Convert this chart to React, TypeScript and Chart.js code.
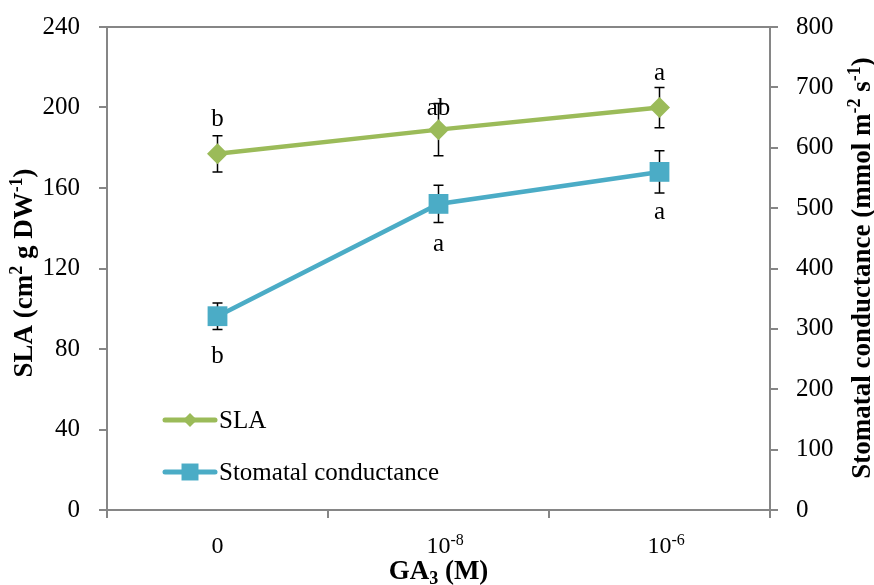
import React, { useEffect, useRef } from 'react';
import { Chart, registerables } from 'chart.js';

Chart.register(...registerables);

// ---- data ----
const categories = ['0', '10^-8', '10^-6'];
const tickBase = ['0', '10', '10'];
const tickExp = ['', '-8', '-6'];

const slaValues = [177, 189, 200];
const slaErrors = [9, 13, 10];
const slaLetters = ['b', 'ab', 'a'];

const gsValues = [321, 507, 560];
const gsErrors = [22, 31, 35];
const gsLetters = ['b', 'a', 'a'];

const slaRange = [0, 240, 40];
const gsRange = [0, 800, 100];

// ---- style ----
const GREEN = '#9BBB59';
const BLUE = '#4BACC6';
const GRAY = '#868686';
const SERIF = '"Liberation Serif", "Times New Roman", serif';
const slaLetterShift = [-28, -15, -28];
const gsLetterShift = [47, 47, 47];

type Run = { t: string; sup?: boolean; sub?: boolean };

function runFont(size: number, bold: boolean, small: boolean) {
  return `${bold ? 'bold ' : ''}${small ? Math.round(size * 0.65) : size}px ${SERIF}`;
}

function drawRuns(
  ctx: CanvasRenderingContext2D,
  runs: Run[],
  x: number,
  y: number,
  size: number,
  bold: boolean,
  rotate: number
) {
  ctx.save();
  ctx.translate(x, y);
  if (rotate) ctx.rotate(rotate);
  ctx.textBaseline = 'alphabetic';
  ctx.textAlign = 'left';
  let total = 0;
  for (const r of runs) {
    ctx.font = runFont(size, bold, !!(r.sup || r.sub));
    total += ctx.measureText(r.t).width;
  }
  let cx = -total / 2;
  ctx.fillStyle = '#000';
  for (const r of runs) {
    ctx.font = runFont(size, bold, !!(r.sup || r.sub));
    const dy = r.sup ? -size * 0.38 : r.sub ? size * 0.2 : 0;
    ctx.fillText(r.t, cx, dy);
    cx += ctx.measureText(r.t).width;
  }
  ctx.restore();
}

const decorPlugin = {
  id: 'decor',
  beforeDatasetsDraw(chart: any) {
    const { ctx } = chart;
    const xs = chart.scales.x;
    const ys = chart.scales.y;
    const y1 = chart.scales.y1;
    ctx.save();
    ctx.strokeStyle = '#000';
    ctx.lineWidth = 1.5;
    const bar = (px: number, top: number, bot: number) => {
      ctx.beginPath();
      ctx.moveTo(px, top);
      ctx.lineTo(px, bot);
      ctx.moveTo(px - 5, top);
      ctx.lineTo(px + 5, top);
      ctx.moveTo(px - 5, bot);
      ctx.lineTo(px + 5, bot);
      ctx.stroke();
    };
    categories.forEach((_, i) => {
      const px = xs.getPixelForValue(i);
      bar(px, ys.getPixelForValue(slaValues[i] + slaErrors[i]), ys.getPixelForValue(slaValues[i] - slaErrors[i]));
      bar(px, y1.getPixelForValue(gsValues[i] + gsErrors[i]), y1.getPixelForValue(gsValues[i] - gsErrors[i]));
    });
    ctx.restore();
  },
  afterDraw(chart: any) {
    const { ctx, chartArea } = chart;
    const xs = chart.scales.x;
    const ys = chart.scales.y;
    const y1 = chart.scales.y1;
    ctx.save();
    // top border
    ctx.strokeStyle = GRAY;
    ctx.lineWidth = 2;
    ctx.beginPath();
    ctx.moveTo(chartArea.left, chartArea.top);
    ctx.lineTo(chartArea.right, chartArea.top);
    ctx.stroke();

    // letters
    ctx.fillStyle = '#000';
    ctx.font = `25px ${SERIF}`;
    ctx.textAlign = 'center';
    ctx.textBaseline = 'alphabetic';
    categories.forEach((_, i) => {
      const px = xs.getPixelForValue(i);
      ctx.fillText(slaLetters[i], px, ys.getPixelForValue(slaValues[i]) + slaLetterShift[i]);
      ctx.fillText(gsLetters[i], px, y1.getPixelForValue(gsValues[i]) + gsLetterShift[i]);
    });

    // x tick labels
    categories.forEach((_, i) => {
      const px = xs.getPixelForValue(i);
      ctx.font = `24px ${SERIF}`;
      ctx.textAlign = 'center';
      const base = tickBase[i];
      const bw = ctx.measureText(base).width;
      ctx.fillText(base, px, chartArea.bottom + 43);
      if (tickExp[i]) {
        ctx.font = `16px ${SERIF}`;
        ctx.textAlign = 'left';
        ctx.fillText(tickExp[i], px + bw / 2, chartArea.bottom + 35);
      }
    });

    // axis titles
    drawRuns(ctx, [{ t: 'GA' }, { t: '3', sub: true }, { t: ' (M)' }], (chartArea.left + chartArea.right) / 2, 579, 27, true, 0);
    drawRuns(
      ctx,
      [{ t: 'SLA (cm' }, { t: '2', sup: true }, { t: ' g DW' }, { t: '-1', sup: true }, { t: ')' }],
      32,
      273,
      27,
      true,
      -Math.PI / 2
    );
    drawRuns(
      ctx,
      [
        { t: 'Stomatal conductance (mmol m' },
        { t: '-2', sup: true },
        { t: ' s' },
        { t: '-1', sup: true },
        { t: ')' },
      ],
      870,
      268,
      27,
      true,
      -Math.PI / 2
    );

    // legend
    const items = [
      { label: 'SLA', color: GREEN, style: 'rectRot', r: 7, y: 420 },
      { label: 'Stomatal conductance', color: BLUE, style: 'rect', r: 12, y: 472 },
    ];
    for (const it of items) {
      ctx.strokeStyle = it.color;
      ctx.lineWidth = 5;
      ctx.lineCap = 'round';
      ctx.beginPath();
      ctx.moveTo(165, it.y);
      ctx.lineTo(215, it.y);
      ctx.stroke();
      ctx.fillStyle = it.color;
      ctx.beginPath();
      if (it.style === 'rectRot') {
        ctx.moveTo(190, it.y - it.r);
        ctx.lineTo(190 + it.r, it.y);
        ctx.lineTo(190, it.y + it.r);
        ctx.lineTo(190 - it.r, it.y);
        ctx.closePath();
      } else {
        const s = it.r * Math.SQRT1_2;
        ctx.rect(190 - s, it.y - s, 2 * s, 2 * s);
      }
      ctx.fill();
      ctx.fillStyle = '#000';
      ctx.font = `25px ${SERIF}`;
      ctx.textAlign = 'left';
      ctx.textBaseline = 'middle';
      ctx.fillText(it.label, 219, it.y + 1);
      ctx.textBaseline = 'alphabetic';
    }
    ctx.restore();
  },
};

export default function App() {
  const ref = useRef<HTMLCanvasElement | null>(null);
  useEffect(() => {
    if (!ref.current) return;
    const axisCommon = {
      grid: { drawOnChartArea: false, drawTicks: true, tickLength: 8, color: GRAY, lineWidth: 2 },
      border: { display: true, color: GRAY, width: 2 },
    };
    const chart = new Chart(ref.current, {
      type: 'line',
      data: {
        labels: categories,
        datasets: [
          {
            label: 'SLA',
            data: slaValues,
            yAxisID: 'y',
            borderColor: GREEN,
            backgroundColor: GREEN,
            borderWidth: 4.5,
            pointStyle: 'rectRot',
            pointRadius: 10.5,
            pointBorderWidth: 0,
            pointBackgroundColor: GREEN,
            tension: 0,
          },
          {
            label: 'Stomatal conductance',
            data: gsValues,
            yAxisID: 'y1',
            borderColor: BLUE,
            backgroundColor: BLUE,
            borderWidth: 4.5,
            pointStyle: 'rect',
            pointRadius: 14,
            pointBorderWidth: 0,
            pointBackgroundColor: BLUE,
            tension: 0,
          },
        ],
      },
      options: {
        responsive: false,
        animation: false,
        layout: { padding: { top: 27, left: 0, right: 0, bottom: 0 } },
        plugins: { legend: { display: false }, tooltip: { enabled: false } },
        scales: {
          x: {
            type: 'category',
            offset: true,
            grid: { ...axisCommon.grid, offset: true },
            border: axisCommon.border,
            ticks: { display: false },
            afterFit: (s: any) => {
              s.height = 75;
              s.paddingLeft = 0;
              s.paddingRight = 0;
            },
          },
          y: {
            position: 'left',
            min: slaRange[0],
            max: slaRange[1],
            ...axisCommon,
            ticks: { stepSize: slaRange[2], color: '#000', font: { family: SERIF, size: 25 }, padding: 19 },
            afterFit: (s: any) => {
              s.width = 107;
              s.paddingTop = 0;
              s.paddingBottom = 0;
            },
          },
          y1: {
            position: 'right',
            min: gsRange[0],
            max: gsRange[1],
            ...axisCommon,
            ticks: { stepSize: gsRange[2], color: '#000', font: { family: SERIF, size: 25 }, padding: 18 },
            afterFit: (s: any) => {
              s.width = 104;
              s.paddingTop = 0;
              s.paddingBottom = 0;
            },
          },
        },
      },
      plugins: [decorPlugin],
    } as any);
    return () => chart.destroy();
  }, []);
  return (
    <div style={{ position: 'absolute', left: 0, top: 0, width: 874, height: 585, background: '#fff' }}>
      <canvas ref={ref} width={874} height={585} />
    </div>
  );
}
